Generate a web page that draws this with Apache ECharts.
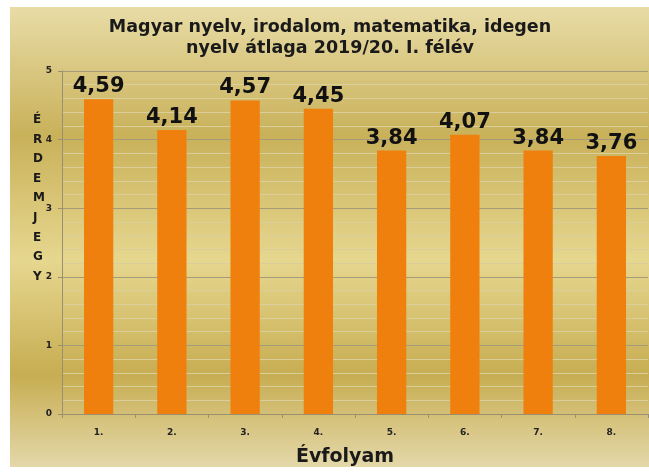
<!DOCTYPE html>
<html>
<head>
<meta charset="utf-8">
<script src="https://cdn.jsdelivr.net/npm/echarts@6/dist/echarts.min.js"></script>
<style>
  html, body { margin: 0; padding: 0; background: #fff; }
  #chart { width: 649px; height: 473px; }
</style>
</head>
<body>
<div id="chart"></div>
<script>
const titleLines = ['Magyar nyelv, irodalom, matematika, idegen', 'nyelv átlaga 2019/20. I. félév']
const grades = ['1.', '2.', '3.', '4.', '5.', '6.', '7.', '8.']
const averages = [4.59, 4.14, 4.57, 4.45, 3.84, 4.07, 3.84, 3.76]
const yAxisTitle = 'ÉRDEMJEGY'
const xAxisTitle = 'Évfolyam'

const font = 'DejaVu Sans'
const chart = echarts.init(document.getElementById('chart'))

const option = {
  animation: false,
  backgroundColor: '#ffffff',
  graphic: [
    {
      type: 'rect',
      z: -10,
      shape: { x: 10, y: 7, width: 639, height: 460 },
      style: {
        fill: new echarts.graphic.LinearGradient(0, 0, 0, 1, [
          { offset: 0, color: '#e8dca6' },
          { offset: 0.28, color: '#c9b15a' },
          { offset: 0.55, color: '#e6d78f' },
          { offset: 0.8, color: '#c7ad52' },
          { offset: 1, color: '#e4d8a9' },
        ]),
      },
    },
    {
      type: 'text',
      left: 33,
      top: 110,
      style: {
        text: yAxisTitle.split('').join('\n'),
        font: `bold 12px "${font}"`,
        lineHeight: 19.6,
        fill: '#1a1a1a',
        align: 'center',
      },
    },
  ],
  title: {
    text: titleLines.join('\n'),
    left: 330,
    top: 17,
    padding: 0,
    textAlign: 'center',
    textStyle: { fontFamily: font, fontWeight: 'bold', fontSize: 17.5, lineHeight: 21, color: '#1a1a1a' },
  },
  grid: { left: 62, right: 1, top: 71, bottom: 59 },
  xAxis: {
    type: 'category',
    data: grades,
    name: xAxisTitle,
    nameLocation: 'middle',
    nameGap: 34,
    nameTextStyle: { fontFamily: font, fontWeight: 'bold', fontSize: 19, color: '#1a1a1a', padding: [0, 20, 0, 0] },
    axisLine: { lineStyle: { color: '#9a9070' } },
    axisTick: { show: true, length: 4, lineStyle: { color: '#9a9070' } },
    axisLabel: { fontFamily: font, fontWeight: 'bold', fontSize: 9, color: '#222', margin: 14 },
  },
  yAxis: {
    type: 'value',
    min: 0,
    max: 5,
    interval: 1,
    axisLine: { show: true, lineStyle: { color: '#9a9070' } },
    axisTick: { show: true, length: 4, lineStyle: { color: '#9a9070' } },
    axisLabel: { fontFamily: font, fontWeight: 'bold', fontSize: 9, color: '#222', margin: 10 },
    splitLine: { lineStyle: { color: '#a39b7a', width: 1 } },
    minorTick: { show: false, splitNumber: 5 },
    minorSplitLine: { show: true, lineStyle: { color: '#dacf9a', width: 1 } },
  },
  series: [
    {
      type: 'bar',
      data: averages,
      barWidth: '40%',
      itemStyle: { color: '#ef800d' },
      label: {
        show: true,
        position: 'top',
        distance: 2,
        formatter: (p) => p.value.toFixed(2).replace('.', ','),
        fontFamily: font,
        fontWeight: 'bold',
        fontSize: 21,
        color: '#111',
      },
    },
  ],
}

chart.setOption(option)
</script>
</body>
</html>
